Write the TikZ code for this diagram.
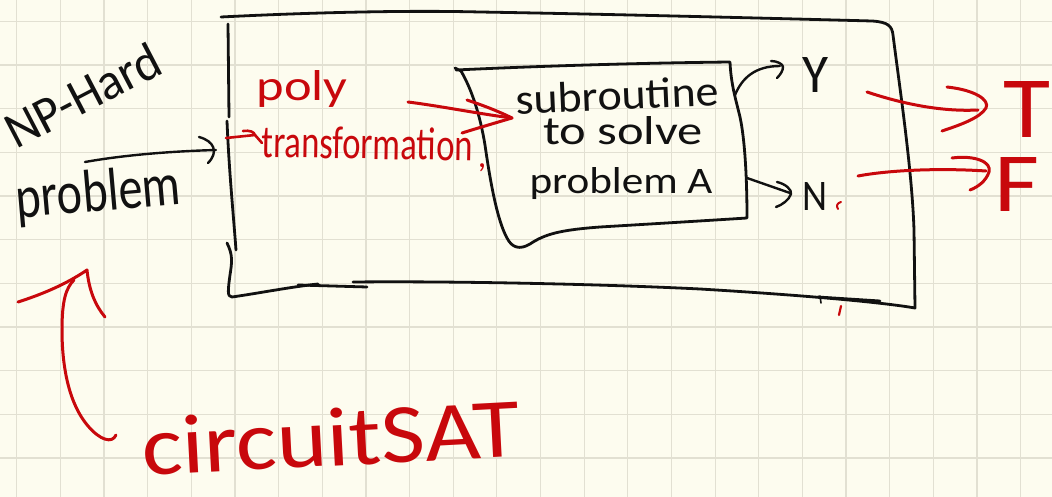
\documentclass[tikz,border=0pt]{standalone}
\usepackage{fontspec}
\setmainfont{Carlito}
\usepackage{graphicx}
\definecolor{paper}{RGB}{253,252,239}
\definecolor{gridc}{RGB}{226,224,210}
\definecolor{ink}{RGB}{17,17,17}
\definecolor{pen}{RGB}{200,8,12}
% set a word into a box of given width and height (height above the baseline)
\newcommand\handword[3]{\resizebox{#1pt}{#2pt}{\fontsize{40}{40}\selectfont #3}}
\tikzset{
  gridline/.style={draw=gridc, line width=1.2pt},
  boxline/.style={draw=ink, line width=2.8pt, line cap=round, line join=round},
  inkline/.style={draw=ink, line width=2.4pt, line cap=round, line join=round},
  redline/.style={draw=pen, line width=3pt, line cap=round, line join=round},
  hand/.style={inner sep=0pt, anchor=base},
}
\begin{document}
\begin{tikzpicture}[x=1pt,y=-1pt]
\useasboundingbox (0,0) rectangle (1052,497);
\fill[paper] (0,0) rectangle (1052,497);
% squared paper
\foreach \i in {0,...,23} \draw[gridline] ({16.7+43.65*\i},0) -- ({16.7+43.65*\i},497);
\foreach \j in {0,...,10} \draw[gridline] (0,{21.4+43.65*\j}) -- (1052,{21.4+43.65*\j});

% ---- outer box (the reduction) ----
\path[boxline] (221,17) .. controls (300,13) and (400,10) .. (480,12)
   .. controls (600,14) and (760,18) .. (872,21)
   .. controls (888,22) and (892,26) .. (893,35)
   .. controls (900,90) and (912,170) .. (914,230) -- (915,308)
   .. controls (880,302) and (800,295) .. (700,289)
   .. controls (600,284) and (450,281) .. (353,282);
\path[boxline] (298,285) -- (367,287);
\path[boxline] (228,24) -- (229,117);
\path[boxline] (227,121) .. controls (229,170) and (233,210) .. (236,250);
\path[boxline] (227,243) .. controls (233,255) and (232,262) .. (230,275)
   .. controls (228,290) and (227,297) .. (232,297)
   .. controls (260,293) and (290,287) .. (318,284);
\path[boxline] (818,297) -- (880,301);
\path[inkline, line width=1.6pt] (820,296) -- (821,303);
\path[redline, line width=2.2pt] (841,306) -- (839,315);

% ---- inner box (subroutine) ----
\path[boxline] (455,68) -- (461,71)
   .. controls (472,90) and (480,115) .. (485,145)
   .. controls (490,180) and (497,220) .. (507,238)
   .. controls (512,248) and (520,250) .. (530,244)
   .. controls (545,234) and (560,230) .. (600,227)
   .. controls (650,224) and (700,221) .. (747,218)
   .. controls (747,180) and (745,140) .. (740,117)
   .. controls (736,100) and (731,85) .. (730,62)
   .. controls (640,63) and (540,66) .. (456,70);

% ---- labels ----
\node[hand, ink, rotate=27.5] (nphard) at (91,111) {\handword{168}{36}{NP-Hard}};
\node[hand, ink, rotate=5] (problem) at (100,211) {\handword{165}{42}{problem}};
\node[hand, pen] (poly) at (302,101) {\handword{91}{30}{poly}};
\node[hand, pen, rotate=-1] (transf) at (367,159) {\handword{211}{32}{transformation}};
\node[hand, pen] (comma) at (482,168) {\fontsize{34}{34}\selectfont ,};
\node[hand, ink, rotate=2.5] (sub1) at (618,110) {\handword{203}{30}{subroutine}};
\node[hand, ink] (sub2) at (623,145) {\handword{160}{28}{to solve}};
\node[hand, ink] (sub3) at (621,194) {\handword{183}{26}{problem A}};
\node[hand, ink] (yes) at (815,93) {\handword{26}{35}{Y}};
\node[hand, ink] (no) at (815,211) {\handword{25}{28}{N}};
\node[hand, pen] (true) at (1027,138) {\handword{47}{56}{T}};
\node[hand, pen] (false) at (1017,212) {\handword{45}{54}{F}};
\node[hand, pen, rotate=3] (csat) at (332,466) {\handword{378}{58}{circuitSAT}};

% ---- connector end points ----
\coordinate (probtail) at (85,162);
\coordinate (boxin) at (216,150);
\coordinate (redin) at (226,138);
\coordinate (redinend) at (255,135);
\coordinate (ptail) at (408,102);
\coordinate (subin) at (512,118);
\coordinate (subY) at (735,95);
\coordinate (Ytip) at (780,66);
\coordinate (subN) at (747,178);
\coordinate (Ntip) at (790,193);
\coordinate (Ttail) at (867,92);
\coordinate (Ttip) at (978,110);
\coordinate (Ftail) at (858,176);
\coordinate (Ftip) at (986,171);
\coordinate (satTail) at (116,435);
\coordinate (satTip) at (74,280);

% problem -> outer box
\path[inkline] (probtail) .. controls (130,154) and (180,151) .. (boxin);
\path[inkline] (199,137) .. controls (214,141) and (219,152) .. (208,163);

% outer box -> transformation
\path[redline, line width=2.6pt] (redin) -- (redinend);
\path[redline, line width=2.6pt] (243,131) .. controls (250,130) and (254,132) .. (redinend) -- (262,143);

% transformation -> subroutine
\path[redline] (ptail) .. controls (440,106) and (480,114) .. (subin);
\path[redline] (467,100) .. controls (485,106) and (500,112) .. (subin)
   .. controls (495,123) and (478,128) .. (462,133);

% subroutine -> Y
\path[inkline] (subY) .. controls (742,78) and (755,66) .. (Ytip);
\path[inkline] (771,61) .. controls (777,61) and (783,64) .. (783,67)
   .. controls (783,71) and (780,75) .. (777,78);

% subroutine -> N
\path[inkline] (subN) -- (Ntip);
\path[inkline] (777,182) .. controls (786,184) and (792,190) .. (791,194)
   .. controls (789,200) and (782,205) .. (776,207);
\path[redline, line width=2pt] (838,209) .. controls (836,206) and (837,203) .. (841,202);

% Y -> T
\path[redline] (Ttail) .. controls (900,103) and (940,112) .. (Ttip);
\path[redline] (947,87) .. controls (975,90) and (990,100) .. (986,108)
   .. controls (980,118) and (960,125) .. (942,131);

% N -> F
\path[redline] (Ftail) .. controls (890,170) and (940,168) .. (Ftip);
\path[redline] (952,158) .. controls (975,155) and (992,162) .. (989,172)
   .. controls (986,181) and (978,187) .. (970,190);

% circuitSAT -> problem
\path[redline] (satTail) .. controls (112,444) and (100,440) .. (88,426)
   .. controls (70,405) and (62,370) .. (62,330)
   .. controls (62,300) and (66,288) .. (satTip);
\path[redline] (18,302) .. controls (40,295) and (65,285) .. (87,270)
   .. controls (89,290) and (95,305) .. (105,317);
\end{tikzpicture}
\end{document}
